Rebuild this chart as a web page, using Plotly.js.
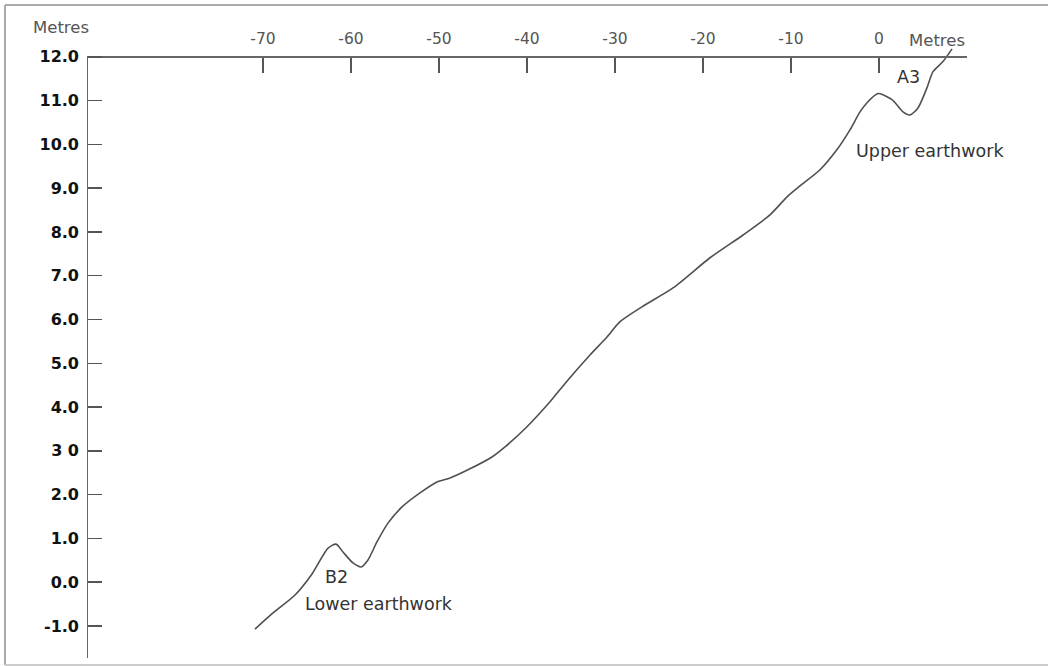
<!DOCTYPE html>
<html>
<head>
<meta charset="utf-8">
<script src="https://cdn.plot.ly/plotly-3.0.1.min.js"></script>
<style>html,body{margin:0;padding:0;background:#fff;}#chart{width:1048px;height:666px;}</style>
</head>
<body>
<div id="chart"></div>
<script>
// Profile: distance (m) vs elevation (m)
const distance = [-70.91, -68.86, -66.36, -64.43, -62.61, -61.70, -60.91, -59.77, -58.86, -58.07,
  -57.05, -55.80, -54.20, -52.16, -50.23, -48.75, -46.48, -43.98, -42.50, -40.00,
  -37.39, -35.34, -32.84, -30.91, -29.43, -26.93, -23.41, -19.20, -15.45, -12.39,
  -10.45, -8.98, -6.7, -4.77, -3.3, -2.16, -1.36, -0.11, 1.48, 2.73, 3.52,
  4.43, 5.45, 6.14, 7.27, 8.30];
const elevation = [-1.07, -0.70, -0.29, 0.19, 0.78, 0.87, 0.69, 0.44, 0.35, 0.51,
  0.92, 1.35, 1.72, 2.04, 2.29, 2.38, 2.59, 2.86, 3.09, 3.55,
  4.12, 4.62, 5.19, 5.60, 5.95, 6.29, 6.72, 7.41, 7.93, 8.39,
  8.80, 9.05, 9.42, 9.88, 10.33, 10.74, 10.95, 11.16, 11.02, 10.74, 10.67,
  10.83, 11.29, 11.66, 11.89, 12.18];

const xTickVals = [-70, -60, -50, -40, -30, -20, -10, 0];
const xTickText = ['-70', '-60', '-50', '-40', '-30', '-20', '-10', '0'];
const yTickVals = [12, 11, 10, 9, 8, 7, 6, 5, 4, 3, 2, 1, 0, -1];
const yTickText = ['12.0', '11.0', '10.0', '9.0', '8.0', '7.0', '6.0', '5.0', '4.0', '3 0', '2.0', '1.0', '0.0', '-1.0'];

const labels = [
  {text: 'A3', x: 3.3, y: 11.54, xanchor: 'center'},
  {text: 'Upper earthwork', x: -2.84, y: 9.85, xanchor: 'left'},
  {text: 'B2', x: -61.6, y: 0.12, xanchor: 'center'},
  {text: 'Lower earthwork', x: -65.45, y: -0.50, xanchor: 'left'}
];

const xMin = -90, xMax = 10, yMin = -1.73, yTop = 12, yMax = 12.2;

const trace = {
  x: distance, y: elevation, type: 'scatter', mode: 'lines',
  line: {color: '#505050', width: 1.6, shape: 'spline', smoothing: 0.7},
  hoverinfo: 'skip'
};

const annotations = labels.map(l => ({
  text: l.text, x: l.x, y: l.y, xref: 'x', yref: 'y', xanchor: l.xanchor, yanchor: 'middle',
  showarrow: false, font: {family: 'DejaVu Sans', size: 17.5, color: '#333'}
}));
annotations.push({text: 'Metres', xref: 'paper', yref: 'paper', x: -0.0295, y: 1.034, xanchor: 'center', yanchor: 'middle',
  showarrow: false, font: {family: 'DejaVu Sans', size: 16.5, color: '#555'}});
annotations.push({text: 'Metres', xref: 'x', yref: 'paper', x: 6.6, y: 1.013, xanchor: 'center', yanchor: 'middle',
  showarrow: false, font: {family: 'DejaVu Sans', size: 16.5, color: '#555'}});

const layout = {
  width: 1048, height: 666,
  margin: {l: 87, r: 81, t: 48, b: 8, pad: 0},
  paper_bgcolor: '#fff', plot_bgcolor: '#fff',
  showlegend: false,
  xaxis: {
    range: [xMin, xMax], side: 'top', anchor: 'free',
    position: (yTop - yMin) / (yMax - yMin),
    showgrid: false, zeroline: false, showline: true, linecolor: '#666', linewidth: 2,
    ticks: 'inside', ticklen: 15, tickwidth: 1.5, tickcolor: '#555',
    tickvals: xTickVals, ticktext: xTickText, ticklabelstandoff: 6,
    tickfont: {family: 'DejaVu Sans', size: 15.5, color: '#555'}
  },
  yaxis: {
    range: [yMin, yMax],
    showgrid: false, zeroline: false, showline: false,
    ticks: 'inside', ticklen: 15, tickwidth: 1.5, tickcolor: '#555',
    tickvals: yTickVals, ticktext: yTickText, ticklabelstandoff: 7,
    tickfont: {family: 'DejaVu Sans', size: 16, color: '#111', weight: 'bold'}
  },
  shapes: [
    {type: 'line', xref: 'x', yref: 'y', x0: xMin, x1: xMin, y0: yMin, y1: yTop, line: {color: '#666', width: 2}},
    {type: 'line', xref: 'paper', yref: 'paper', x0: -0.0932, x1: -0.0932, y0: -0.0115, y1: 1.0705, line: {color: '#aaa', width: 2}},
    {type: 'line', xref: 'paper', yref: 'paper', x0: -0.0932, x1: 1.092, y0: 1.0705, y1: 1.0705, line: {color: '#aaa', width: 2}},
    {type: 'line', xref: 'paper', yref: 'paper', x0: -0.0932, x1: 1.092, y0: -0.0115, y1: -0.0115, line: {color: '#ccc', width: 2}}
  ],
  annotations: annotations
};

Plotly.newPlot('chart', [trace], layout, {staticPlot: true, displayModeBar: false});
</script>
</body>
</html>
